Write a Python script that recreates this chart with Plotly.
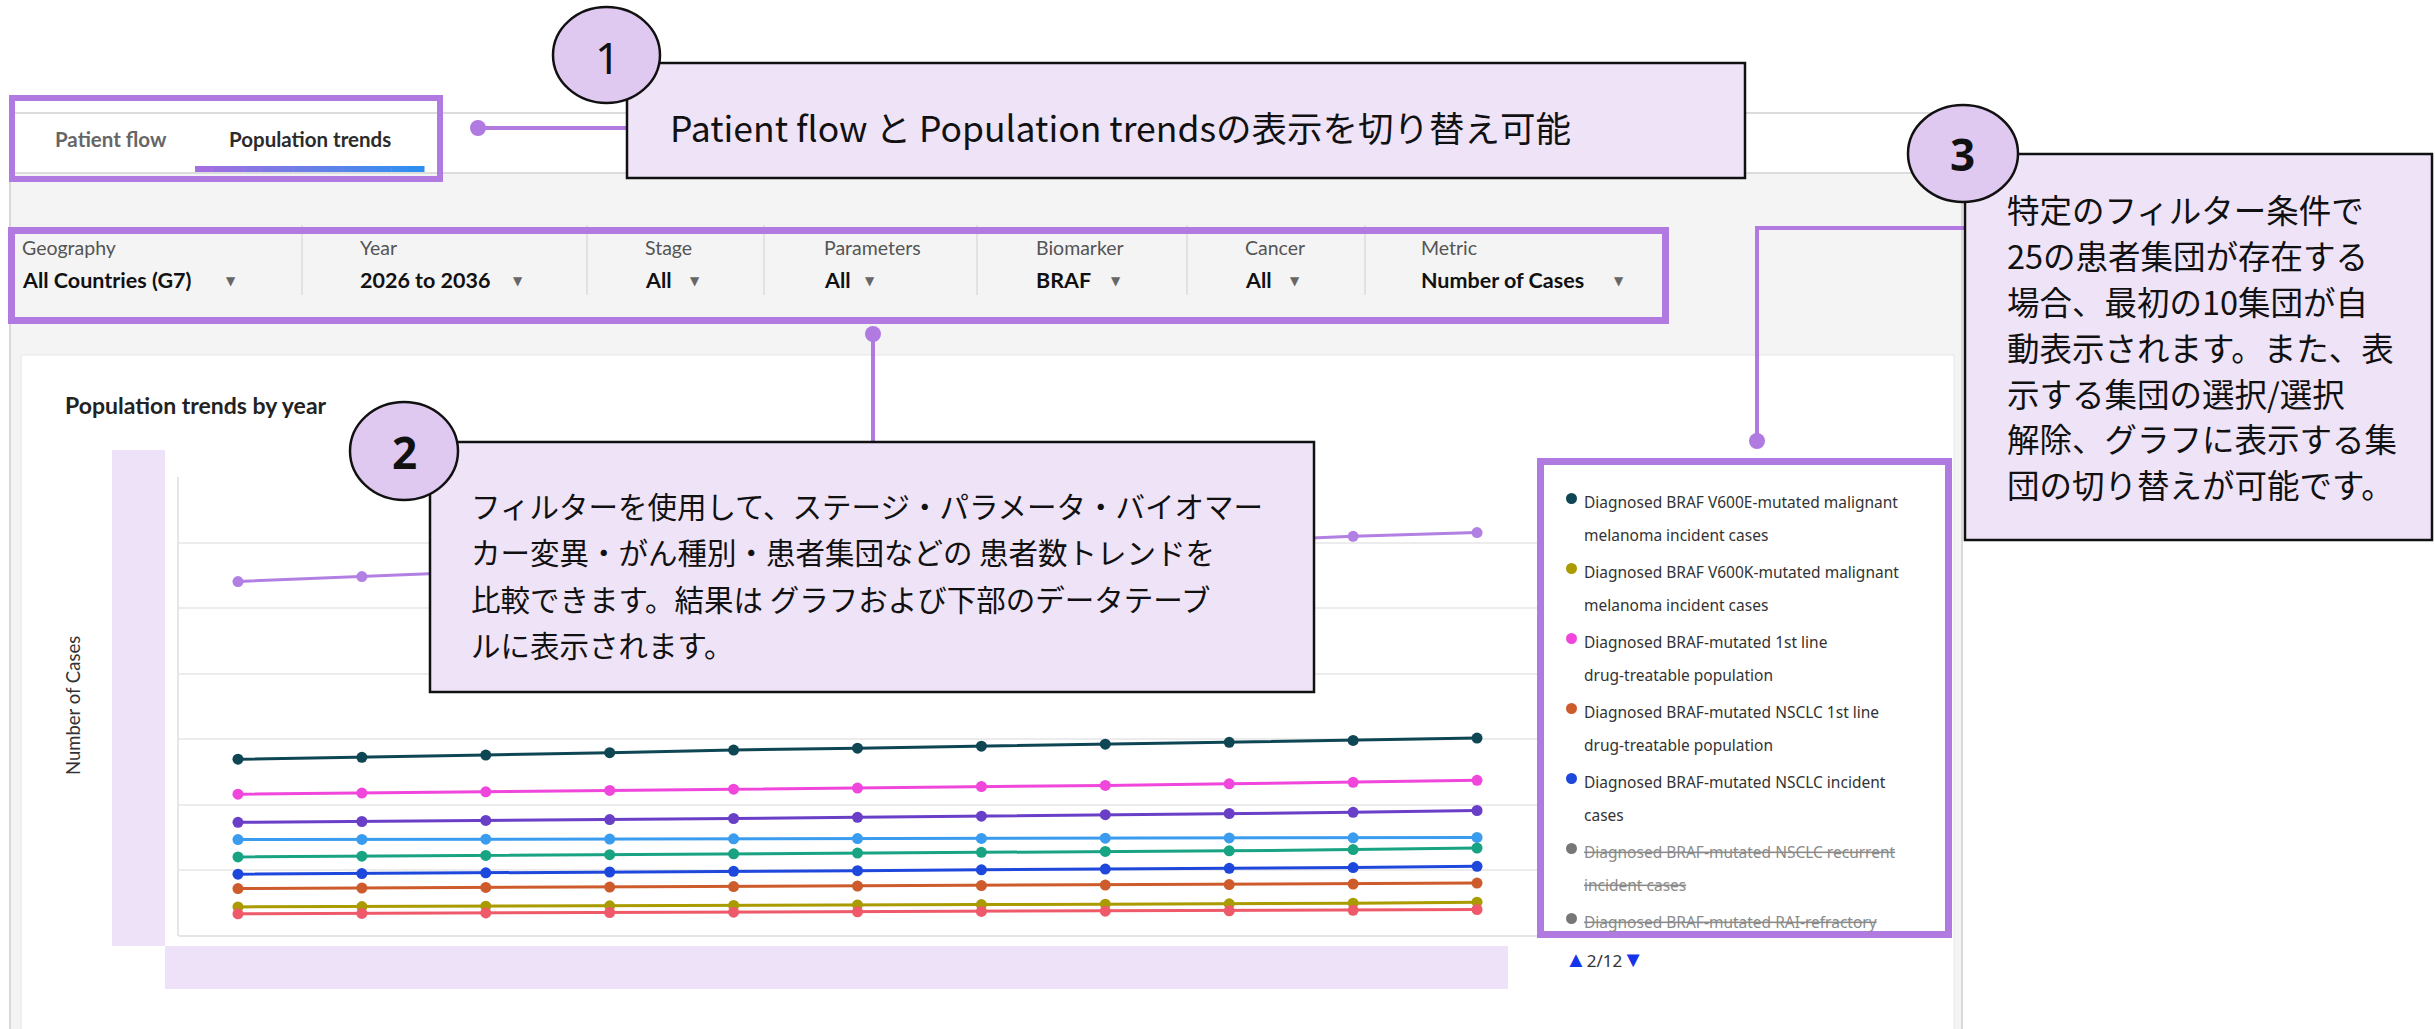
import plotly.graph_objects as go

W, H = 2435, 1029

# ---------------- data ----------------
years = list(range(2026, 2037))

s_lavender   = [54060, 54820, 55590, 56350, 57110, 57870, 58710, 59480, 60240, 60950, 61530]
s_v600e      = [26960, 27250, 27600, 27950, 28360, 28650, 28950, 29250, 29540, 29830, 30190]
s_firstline  = [21630, 21790, 21980, 22200, 22390, 22560, 22800, 22970, 23210, 23440, 23740]
s_violet     = [17340, 17460, 17630, 17750, 17920, 18100, 18270, 18510, 18680, 18860, 19140]
s_skyblue    = [14700, 14730, 14770, 14790, 14820, 14860, 14880, 14920, 14950, 14980, 15030]
s_green      = [12060, 12170, 12290, 12410, 12540, 12640, 12760, 12890, 12990, 13180, 13420]
s_nsclc_inc  = [9430, 9520, 9640, 9760, 9870, 9970, 10100, 10200, 10320, 10430, 10630]
s_nsclc_1l   = [7240, 7320, 7400, 7470, 7530, 7610, 7690, 7760, 7840, 7930, 8080]
s_v600k      = [4440, 4480, 4550, 4610, 4670, 4730, 4790, 4850, 4910, 5000, 5160]
s_red        = [3390, 3450, 3510, 3570, 3630, 3680, 3740, 3780, 3840, 3920, 4040]

series_names = ["Population (page 1) A",
                "Diagnosed BRAF V600E-mutated malignant melanoma incident cases",
                "Diagnosed BRAF-mutated 1st line drug-treatable population",
                "Population (page 1) B", "Population (page 1) C", "Population (page 1) D",
                "Diagnosed BRAF-mutated NSCLC incident cases",
                "Diagnosed BRAF-mutated NSCLC 1st line drug-treatable population",
                "Diagnosed BRAF V600K-mutated malignant melanoma incident cases",
                "Population (page 1) E"]
series_values = [s_lavender, s_v600e, s_firstline, s_violet, s_skyblue, s_green,
                 s_nsclc_inc, s_nsclc_1l, s_v600k, s_red]
series_colors = ["#b27fe3", "#0e4654", "#f046dc", "#6a3fc8", "#3a9cef", "#18a383",
                 "#1e48dc", "#cd5b2c", "#a99b00", "#ee5a6a"]

legend_lines = [["Diagnosed BRAF V600E-mutated malignant", "melanoma incident cases"],
                ["Diagnosed BRAF V600K-mutated malignant", "melanoma incident cases"],
                ["Diagnosed BRAF-mutated 1st line", "drug-treatable population"],
                ["Diagnosed BRAF-mutated NSCLC 1st line", "drug-treatable population"],
                ["Diagnosed BRAF-mutated NSCLC incident", "cases"],
                ["Diagnosed BRAF-mutated NSCLC recurrent", "incident cases"],
                ["Diagnosed BRAF-mutated RAI-refractory"]]
legend_colors = ["#0e4654", "#a99b00", "#f046dc", "#cd5b2c", "#1e48dc", "#777777", "#777777"]
legend_active = [True, True, True, True, True, False, False]

filter_labels = ["Geography", "Year", "Stage", "Parameters", "Biomarker", "Cancer", "Metric"]
filter_values = ["All Countries (G7)", "2026 to 2036", "All", "All", "BRAF", "All", "Number of Cases"]

# ---------------- helpers ----------------
PURPLE = "#b07ae0"
BOXFILL = "#efe3f8"
CIRCFILL = "#e0c9f1"
CJK = "Noto Sans CJK JP"
UI = "Lato"

shapes = []
annotations = []


def rect(x0, y0, x1, y1, fill="rgba(0,0,0,0)", lc="rgba(0,0,0,0)", lw=0, layer="above"):
    shapes.append(dict(type="rect", xref="paper", yref="paper",
                       x0=x0 / W, x1=x1 / W, y0=1 - y1 / H, y1=1 - y0 / H,
                       fillcolor=fill, line=dict(color=lc, width=lw), layer=layer))


def ellipse(x0, y0, x1, y1, fill, lc="rgba(0,0,0,0)", lw=0, layer="above"):
    shapes.append(dict(type="circle", xref="paper", yref="paper",
                       x0=x0 / W, x1=x1 / W, y0=1 - y1 / H, y1=1 - y0 / H,
                       fillcolor=fill, line=dict(color=lc, width=lw), layer=layer))


def seg(x0, y0, x1, y1, color, width, layer="above"):
    shapes.append(dict(type="line", xref="paper", yref="paper",
                       x0=x0 / W, x1=x1 / W, y0=1 - y0 / H, y1=1 - y1 / H,
                       line=dict(color=color, width=width), layer=layer))


def text(x, y, s, size, color="#111111", family=CJK, xanchor="left", angle=0):
    annotations.append(dict(xref="paper", yref="paper", x=x / W, y=1 - y / H, text=s,
                            showarrow=False, xanchor=xanchor, yanchor="middle",
                            textangle=angle, borderpad=0,
                            font=dict(size=size, color=color, family=family)))


# ---------------- page background ----------------
rect(11, 174, 1961, 1029, fill="#f4f4f4", layer="below")
seg(10, 113, 10, 1029, "#d9d9d9", 2, layer="below")
seg(1962, 113, 1962, 1029, "#d9d9d9", 2, layer="below")
seg(10, 113, 1962, 113, "#dcdcdc", 2, layer="below")
seg(10, 173, 1962, 173, "#dcdcdc", 2, layer="below")
rect(21, 355, 1954, 1040, fill="#ffffff", lc="#e6e6e6", lw=1, layer="below")

# tabs
text(54, 139, "<b>Patient flow</b>", 20.5, "#666666", UI)
text(228, 139, "<b>Population trends</b>", 20.5, "#2b2b2b", UI)
n = 14
x_start, x_end = 195, 424
c0, c1 = (163, 111, 224), (47, 143, 240)
for i in range(n):
    t = i / (n - 1)
    col = "rgb(%d,%d,%d)" % tuple(round(a + (b - a) * t) for a, b in zip(c0, c1))
    xa = x_start + (x_end - x_start) * i / n
    xb = x_start + (x_end - x_start) * (i + 1) / n + 0.5
    rect(xa, 166, xb, 172, fill=col, layer="below")

# filter bar
fx = [21, 359, 644, 823, 1035, 1244, 1420]
tri = [231, 518, 695, 870, 1116, 1295, 1619]
for lab, val, x, tx in zip(filter_labels, filter_values, fx, tri):
    text(x, 247, lab, 19.5, "#555555", UI)
    text(x, 280, "<b>%s</b>" % val, 21.5, "#111111", UI)
    text(tx, 281, "▼", 12, "#666666", "DejaVu Sans", xanchor="center")
for sx in [302, 587, 764, 977, 1187, 1365]:
    seg(sx, 225, sx, 295, "#dddddd", 1.5, layer="below")

# chart title and axis label
text(64, 405, "<b>Population trends by year</b>", 23, "#222222", UI)
text(73, 706, "Number of Cases", 18.5, "#333333", UI, xanchor="center", angle=-90)

# redaction strips over axis labels
rect(112, 450, 165, 946, fill="#eee2f8")
rect(165, 946, 1508, 989, fill="#eee2f8")

# purple highlight boxes
rect(12, 98, 440, 179, lc=PURPLE, lw=6)
rect(11.5, 230.5, 1665.5, 320.5, lc=PURPLE, lw=7)

# legend box
rect(1540.5, 461.5, 1948.5, 934.5, fill="#ffffff", lc=PURPLE, lw=7)
for i, (lines, col, act) in enumerate(zip(legend_lines, legend_colors, legend_active)):
    y0 = 502 + 70 * i
    ellipse(1566, y0 - 9, 1577, y0 + 2, fill=col)
    for j, ln in enumerate(lines):
        s = ln if act else "<s>%s</s>" % ln
        text(1583, y0 + 33 * j, s, 15.5, "#333333" if act else "#8a8a8a", "Noto Sans")
text(1564, 958, '<span style="color:#1533ea;font-size:22px">▲</span>2/12'
     '<span style="color:#1533ea;font-size:22px">▼</span>',
     17, "#333333", "Noto Sans")

# connectors
seg(478, 128, 627, 128, PURPLE, 4)
ellipse(470, 120, 486, 136, fill=PURPLE)
seg(873, 334, 873, 442, PURPLE, 4)
ellipse(865, 326, 881, 342, fill=PURPLE)
seg(1757, 228, 1757, 441, PURPLE, 4)
seg(1755, 228, 1966, 228, PURPLE, 4)
ellipse(1749, 433, 1765, 449, fill=PURPLE)

# callout 1
rect(627, 63, 1745, 178, fill=BOXFILL, lc="#111111", lw=2.5)
ellipse(553, 7, 660, 103, fill=CIRCFILL, lc="#111111", lw=2.5)
text(607, 57, "1", 44, "#111111", "Noto Sans", xanchor="center")
text(669, 126, "Patient flow と Population trendsの表示を切り替え可能", 35.5, "#111111", CJK)

# callout 2
rect(430, 442, 1314, 692, fill=BOXFILL, lc="#111111", lw=2.5)
ellipse(350, 402, 458, 500, fill=CIRCFILL, lc="#111111", lw=2.5)
text(404, 452, "<b>2</b>", 44, "#111111", "Noto Sans", xanchor="center")
c2_lines = ["フィルターを使用して、ステージ・パラメータ・バイオマー",
            "カー変異・がん種別・患者集団などの 患者数トレンドを",
            "比較できます。結果は グラフおよび下部のデータテーブ",
            "ルに表示されます。"]
for k, ln in enumerate(c2_lines):
    text(470, 505 + 46.3 * k, ln, 29.5, "#111111", CJK)

# callout 3
rect(1965, 154, 2432, 540, fill=BOXFILL, lc="#111111", lw=2.5)
ellipse(1908, 105, 2018, 202, fill=CIRCFILL, lc="#111111", lw=2.5)
text(1962, 154, "<b>3</b>", 44, "#111111", "Noto Sans", xanchor="center")
c3_lines = ["特定のフィルター条件で", "25の患者集団が存在する", "場合、最初の10集団が自",
            "動表示されます。また、表", "示する集団の選択/選択", "解除、グラフに表示する集",
            "団の切り替えが可能です。"]
for k, ln in enumerate(c3_lines):
    text(2006, 209 + 45.8 * k, ln, 32.5, "#111111", CJK)

# ---------------- figure ----------------
fig = go.Figure()
for name, vals, col in zip(series_names, series_values, series_colors):
    fig.add_trace(go.Scatter(x=years, y=vals, name=name, mode="lines+markers",
                             line=dict(color=col, width=3),
                             marker=dict(color=col, size=11), showlegend=False))

fig.update_layout(
    width=W, height=H,
    margin=dict(l=0, r=0, t=0, b=0),
    paper_bgcolor="#ffffff",
    plot_bgcolor="rgba(0,0,0,0)",
    xaxis=dict(domain=[179 / W, 1537 / W], range=[2025.524, 2036.484],
               showgrid=False, zeroline=False, showticklabels=False, showline=False),
    yaxis=dict(domain=[1 - 936 / H, 1 - 477 / H], range=[0, 70000], dtick=10000,
               showgrid=True, gridcolor="#ececec", gridwidth=2,
               zeroline=True, zerolinecolor="#e4e4e4", zerolinewidth=2,
               showline=True, linecolor="#e6e6e6", linewidth=2,
               showticklabels=False, ticks=""),
    shapes=shapes,
    annotations=annotations,
)

fig.write_html("out.html", config={"displayModeBar": False},
               post_script="document.body.style.margin='0';document.body.style.overflow='hidden';")
